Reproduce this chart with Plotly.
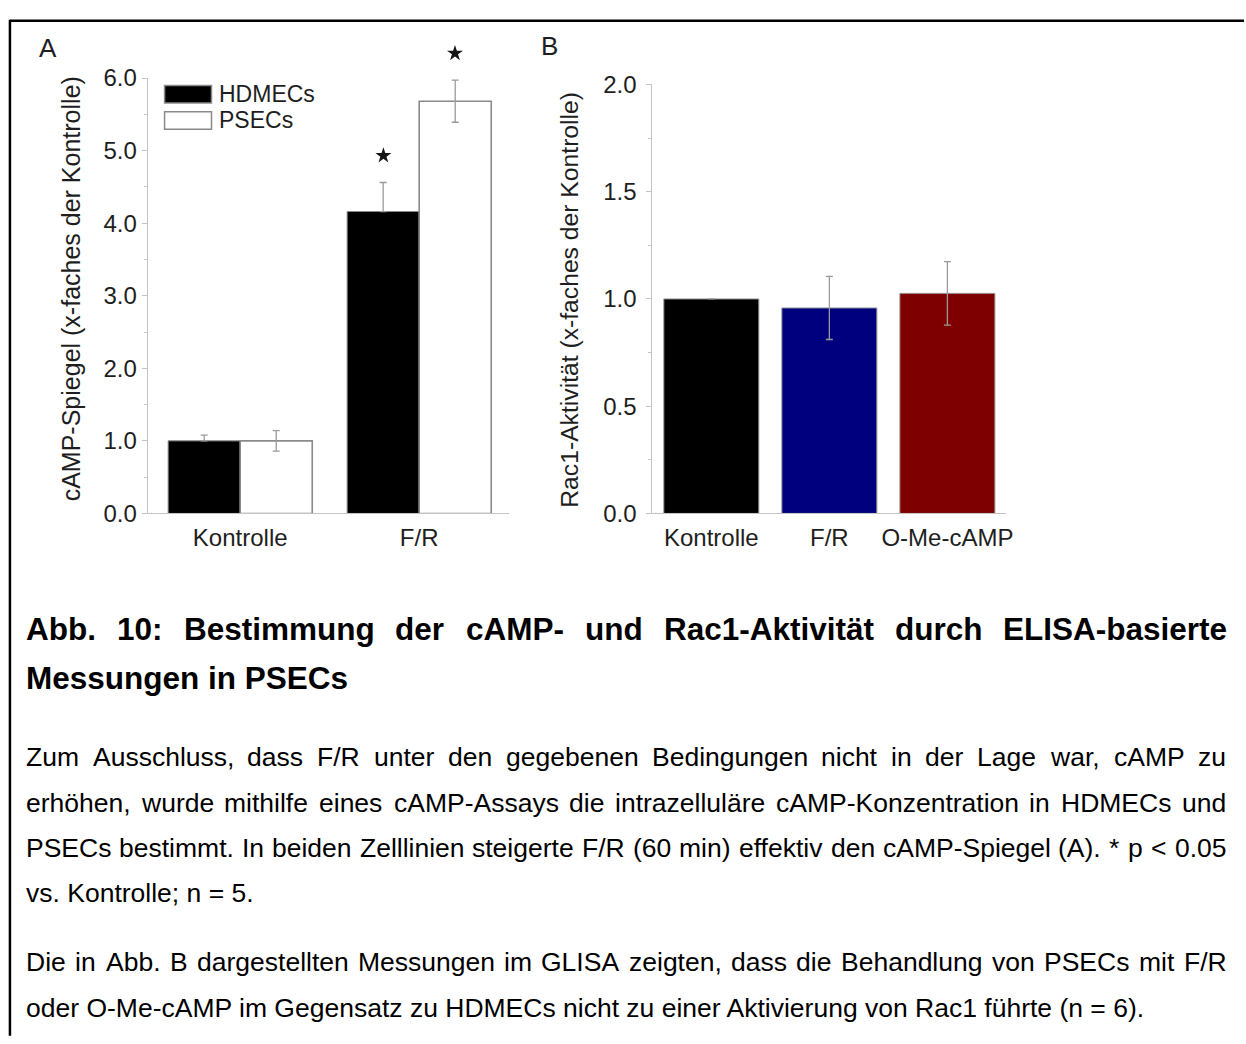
import plotly.graph_objects as go

W, H = 1246, 1044

# ---------------- data ----------------
cats_a = ["Kontrolle", "F/R"]
hdmecs_mean = [1.0, 4.16]
hdmecs_err = [0.08, 0.40]
psecs_mean = [1.0, 5.68]
psecs_err = [0.14, 0.29]
hdmecs_sig = [False, True]
psecs_sig = [False, True]
legend_labels = ["HDMECs", "PSECs"]

cats_b = ["Kontrolle", "F/R", "O-Me-cAMP"]
rac1_mean = [1.0, 0.958, 1.026]
rac1_err = [0.0, 0.147, 0.148]
rac1_colors = ["#000000", "#00007f", "#7f0000"]

y_title_a = "cAMP-Spiegel (x-faches der Kontrolle)"
y_title_b = "Rac1-Aktivität (x-faches der Kontrolle)"

caption_title = [
    ("Abb. 10: Bestimmung der cAMP- und Rac1-Aktivität durch ELISA-basierte", True),
    ("Messungen in PSECs", False),
]
caption_body = [
    ("Zum Ausschluss, dass F/R unter den gegebenen Bedingungen nicht in der Lage war, cAMP zu", True),
    ("erhöhen, wurde mithilfe eines cAMP-Assays die intrazelluläre cAMP-Konzentration in HDMECs und", True),
    ("PSECs bestimmt. In beiden Zelllinien steigerte F/R (60 min) effektiv den cAMP-Spiegel (A). * p < 0.05", True),
    ("vs. Kontrolle; n = 5.", False),
    ("Die in Abb. B dargestellten Messungen im GLISA zeigten, dass die Behandlung von PSECs mit F/R", True),
    ("oder O-Me-cAMP im Gegensatz zu HDMECs nicht zu einer Aktivierung von Rac1 führte (n = 6).", False),
]

# ---------------- helpers ----------------
def px(v):
    return v / W

def py(v):
    return 1 - v / H

FONT = "Liberation Sans, Arial, Helvetica, sans-serif"
AX_GRAY = "#c4c4c4"
TXT = "#1e1e1e"

REG = {" ": 278, ",": 278, "-": 333, ".": 278, "/": 278, ":": 278, ";": 278, "(": 333, ")": 333,
       "*": 389, "<": 584, "=": 584, ">": 584}
for d in "0123456789":
    REG[d] = 556
REG.update(dict(A=667, B=667, C=722, D=722, E=667, F=611, G=778, H=722, I=278, J=500, K=667, L=556,
                M=833, N=722, O=778, P=667, Q=778, R=722, S=667, T=611, U=722, V=667, W=944, X=667,
                Y=667, Z=611))
REG.update(dict(a=556, b=556, c=500, d=556, e=556, f=278, g=556, h=556, i=222, j=222, k=500, l=222,
                m=833, n=556, o=556, p=556, q=556, r=333, s=500, t=278, u=556, v=500, w=722, x=500,
                y=500, z=500))
REG.update({"ä": 556, "ö": 556, "ü": 556, "ß": 611})

BOLD = {" ": 278, ",": 278, "-": 333, ".": 278, ":": 333, "/": 278, "(": 333, ")": 333}
for d in "0123456789":
    BOLD[d] = 556
BOLD.update(dict(A=722, B=722, C=722, D=722, E=667, F=611, G=778, H=722, I=278, J=556, K=722, L=611,
                 M=833, N=722, O=778, P=667, Q=778, R=722, S=667, T=611, U=722, V=667, W=944, X=667,
                 Y=667, Z=611))
BOLD.update(dict(a=556, b=611, c=556, d=611, e=556, f=333, g=611, h=611, i=278, j=278, k=556, l=278,
                 m=889, n=611, o=611, p=611, q=611, r=389, s=556, t=333, u=611, v=556, w=778, x=556,
                 y=556, z=500))
BOLD.update({"ä": 556, "ö": 611, "ü": 611})


def text_width(s, table, fs):
    return sum(table.get(ch, 556) for ch in s) * fs / 1000.0


annotations = []
shapes = []

LEFT, RIGHT = 26, 1233


def add_line(text, justify, baseline, fs, bold):
    table = BOLD if bold else REG
    font = dict(family=FONT, size=fs, color="#000000", weight="bold" if bold else "normal")
    yc = baseline - 0.3465 * fs
    if not justify:
        annotations.append(dict(text=text, x=px(LEFT), y=py(yc), xref="paper", yref="paper",
                                xanchor="left", yanchor="middle", showarrow=False, font=font,
                                borderpad=0, borderwidth=0))
        return
    words = text.split(" ")
    widths = [text_width(w, table, fs) for w in words]
    gap = (RIGHT - LEFT - sum(widths)) / (len(words) - 1)
    x = LEFT
    for w, wd in zip(words, widths):
        annotations.append(dict(text=w, x=px(x), y=py(yc), xref="paper", yref="paper",
                                xanchor="left", yanchor="middle", showarrow=False, font=font,
                                borderpad=0, borderwidth=0))
        x += wd + gap


title_baselines = [642, 693]
body_baselines = [772, 819, 865, 912, 982, 1030]
for (t, j), b in zip(caption_title, title_baselines):
    add_line(t, j, b, 31.5, True)
for (t, j), b in zip(caption_body, body_baselines):
    add_line(t, j, b, 26.5, False)

# ---------------- traces ----------------
fig = go.Figure()
xa = list(range(len(cats_a)))

fig.add_trace(go.Bar(
    x=xa, y=hdmecs_mean, name=legend_labels[0], xaxis="x", yaxis="y",
    marker=dict(color="#000000", line=dict(color="#8a8a8a", width=1)),
    error_y=dict(type="data", array=hdmecs_err, arrayminus=[0] * len(hdmecs_err), symmetric=False,
                 color="#9a9a9a", thickness=1.3, width=3.5),
    showlegend=False,
))
fig.add_trace(go.Bar(
    x=xa, y=psecs_mean, name=legend_labels[1], xaxis="x", yaxis="y",
    marker=dict(color="#ffffff", line=dict(color="#8a8a8a", width=1.6)),
    error_y=dict(type="data", array=psecs_err, color="#9a9a9a", thickness=1.3, width=3.5),
    showlegend=False,
))

# significance stars, drawn on a hidden y axis with the same scale but more headroom
star_pad = 0.37
sx, sy = [], []
for offset, means, errs, sigs in ((-0.2, hdmecs_mean, hdmecs_err, hdmecs_sig),
                                  (0.2, psecs_mean, psecs_err, psecs_sig)):
    for i, (m, e, s) in enumerate(zip(means, errs, sigs)):
        if s:
            sx.append(i + offset)
            sy.append(m + e + star_pad)
fig.add_trace(go.Scatter(
    x=sx, y=sy, mode="markers", xaxis="x", yaxis="y3",
    marker=dict(symbol="star", size=12, color="#151515", line=dict(width=0)),
    showlegend=False, hoverinfo="skip",
))

xb = list(range(len(cats_b)))
fig.add_trace(go.Bar(
    x=xb, y=rac1_mean, xaxis="x2", yaxis="y2",
    marker=dict(color=rac1_colors, line=dict(color="#9a9a9a", width=1)),
    error_y=dict(type="data", array=rac1_err, color="#9a9a9a", thickness=1.3, width=3.5),
    showlegend=False,
))

# ---------------- axes ----------------
tickfont = dict(family=FONT, size=24, color=TXT)
ax_common = dict(showgrid=False, zeroline=False, showline=True, linecolor=AX_GRAY, linewidth=1)

a_left, a_unit = 148.5, 180.0
a_lo = -0.517
a_hi = 1.5
b_left, b_unit = 656.0, 118.7

a_zero, a_top, a_max = 512.7, 65.7, 6.0
a_scale = (a_zero - a_top) / a_max
star_max = 6.6

fig.update_layout(
    width=W, height=H, margin=dict(l=0, r=0, t=0, b=0),
    paper_bgcolor="white", plot_bgcolor="rgba(0,0,0,0)",
    barmode="group", bargap=0.195, bargroupgap=0,
    showlegend=False,
    xaxis=dict(domain=[px(a_left), px(a_left + (a_hi - a_lo) * a_unit)], range=[a_lo, a_hi],
               anchor="y", tickmode="array", tickvals=xa, ticktext=cats_a, ticks="",
               tickfont=dict(family=FONT, size=24, color=TXT), ticklabelstandoff=3, **ax_common),
    yaxis=dict(domain=[py(a_zero), py(a_top)], range=[0, a_max], anchor="x", dtick=1, tickformat=".1f",
               ticks="outside", ticklen=5, tickcolor=AX_GRAY, tickwidth=1,
               minor=dict(dtick=0.5, ticks="outside", ticklen=3, tickcolor=AX_GRAY),
               tickfont=tickfont, ticklabelstandoff=0, **ax_common),
    yaxis3=dict(domain=[py(a_zero), py(a_zero - star_max * a_scale)], range=[0, star_max],
                anchor="x", visible=False, showgrid=False, zeroline=False),
    xaxis2=dict(domain=[px(b_left), px(b_left + 3 * b_unit)], range=[-0.5, 2.5],
                anchor="y2", tickmode="array", tickvals=xb, ticktext=cats_b, ticks="",
                tickfont=dict(family=FONT, size=24, color=TXT), ticklabelstandoff=3, **ax_common),
    yaxis2=dict(domain=[py(512.7), py(72.3)], range=[0, 2], anchor="x2", dtick=0.5, tickformat=".1f",
                ticks="outside", ticklen=5, tickcolor=AX_GRAY, tickwidth=1,
                minor=dict(dtick=0.25, ticks="outside", ticklen=3, tickcolor=AX_GRAY),
                tickfont=tickfont, ticklabelstandoff=5, **ax_common),
)

# axis titles and panel letters
annotations.append(dict(text=y_title_a, x=px(71), y=py(282), xref="paper", yref="paper",
                        textangle=-90, showarrow=False, xanchor="center", yanchor="middle",
                        font=dict(family=FONT, size=25, color=TXT)))
annotations.append(dict(text=y_title_b, x=px(572.5), y=py(293), xref="paper", yref="paper",
                        textangle=-90, showarrow=False, xanchor="center", yanchor="middle",
                        font=dict(family=FONT, size=24.7, color=TXT)))
annotations.append(dict(text="A", x=px(48), y=py(34.5), xref="paper", yref="paper", showarrow=False,
                        xanchor="center", yanchor="middle", font=dict(family=FONT, size=26, color=TXT)))
annotations.append(dict(text="B", x=px(553), y=py(33), xref="paper", yref="paper", showarrow=False,
                        xanchor="center", yanchor="middle", font=dict(family=FONT, size=26, color=TXT)))

# legend (drawn manually to match the wide swatches)
legend_fill = ["#000000", "#ffffff"]
legend_y = [82.3, 109.3]
for lab, fill, yc in zip(legend_labels, legend_fill, legend_y):
    shapes.append(dict(type="rect", xref="paper", yref="paper",
                       x0=px(165.5), x1=px(212.7), y0=py(yc - 9), y1=py(yc + 9),
                       fillcolor=fill, line=dict(color="#8a8a8a", width=1.5)))
    annotations.append(dict(text=lab, x=px(220), y=py(yc), xref="paper", yref="paper",
                            showarrow=False, xanchor="left", yanchor="middle", borderpad=0,
                            borderwidth=0, font=dict(family=FONT, size=23, color=TXT)))

# page frame (top and left rules)
shapes.append(dict(type="line", xref="paper", yref="paper", x0=px(10), x1=px(W + 5), y0=py(7), y1=py(7),
                   line=dict(color="#000000", width=2.5)))
shapes.append(dict(type="line", xref="paper", yref="paper", x0=px(10), x1=px(10), y0=py(6), y1=py(H + 5),
                   line=dict(color="#000000", width=2.5)))

fig.update_layout(annotations=annotations, shapes=shapes)

fig.write_html("out.html")
